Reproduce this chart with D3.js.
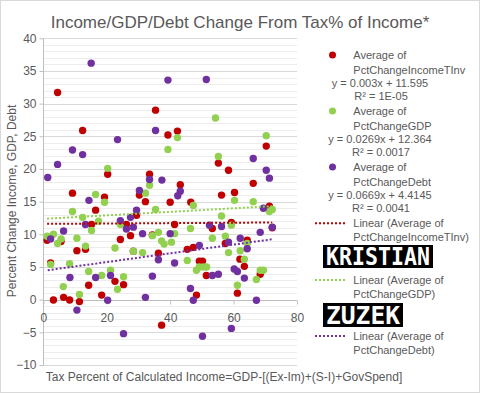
<!DOCTYPE html>
<html lang="en">
<head>
<meta charset="utf-8">
<title>Income/GDP/Debt Change From Tax% of Income</title>
<script src="https://d3js.org/d3.v7.min.js"></script>
<style>
body{margin:0;background:#fff;}
text{font-family:"Liberation Sans",Arial,sans-serif;fill:#595959;}
</style>
</head>
<body>
<div id="chart"></div>
<script>
// data: [tax %, pct change]
var incomePoints = [[4.5,31.7],[35.4,29.0],[12.4,25.9],[39.3,25.2],[20.3,19.2],[33.5,19.2],[42.3,25.8],[70.3,23.5],[55.2,20.9],[58.4,19.8],
  [9.2,16.3],[19.3,15.7],[30.3,16.0],[32.2,15.0],[40.0,14.9],[16.5,13.7],[29.4,12.9],[15.2,11.5],[26.2,11.5],[27.5,9.8],
  [34.4,9.9],[1.2,9.1],[5.6,8.9],[24.3,9.2],[10.6,7.5],[13.3,7.7],[28.4,7.4],[36.3,7.1],[2.3,5.6],[22.6,2.8],
  [25.3,2.3],[14.3,2.2],[18.4,0.7],[6.4,0.35],[8.3,-0.05],[3.2,-0.05],[11.4,-0.3],[37.3,-3.9],[43.2,17.6],[66.2,17.8],
  [46.5,14.9],[56.2,16.0],[60.3,16.4],[71.3,14.3],[41.4,11.5],[53.3,10.9],[59.3,11.8],[72.2,11.0],[57.4,8.6],[64.3,9.1],
  [45.4,7.7],[47.3,8.0],[49.2,5.9],[50.2,5.9],[62.0,6.2],[63.4,5.1],[68.4,3.9],[51.4,3.7],[61.2,1.0],[48.3,0.7]]
var gdpPoints = [[39.3,23.0],[20.3,20.1],[54.3,27.8],[42.3,24.8],[70.3,25.1],[55.2,21.9],[33.5,17.5],[16.5,16.1],[19.3,14.9],[32.2,16.3],
  [9.2,13.5],[35.4,13.8],[12.4,12.6],[17.4,12.0],[24.3,11.5],[15.2,10.6],[36.3,10.3],[34.4,9.8],[1.2,9.7],[3.2,10.0],
  [5.6,9.3],[4.5,8.6],[10.6,9.4],[37.3,9.0],[38.1,8.5],[22.6,7.9],[13.3,8.2],[28.4,7.4],[31.3,7.2],[8.3,5.5],
  [2.3,5.4],[14.3,4.3],[18.4,3.7],[21.2,4.5],[25.3,3.5],[6.3,2.0],[23.4,1.6],[11.4,0.8],[47.3,14.4],[60.3,15.2],
  [66.2,15.0],[56.2,12.8],[72.2,13.8],[71.3,13.5],[59.3,11.4],[41.4,10.1],[46.4,10.9],[40.4,8.8],[53.3,9.4],[57.4,9.7],
  [64.3,8.6],[62.1,7.5],[58.4,7.2],[45.4,6.0],[63.4,6.2],[49.2,5.0],[50.5,5.0],[51.5,5.0],[48.3,4.5],[68.4,4.5],
  [69.4,4.5],[67.2,3.1],[61.2,2.2]]
var debtPoints = [[15.1,36.2],[39.3,33.6],[51.4,33.7],[35.4,25.9],[23.4,24.5],[9.2,22.9],[12.4,22.2],[4.5,20.7],[1.4,18.7],[33.5,18.4],
  [37.4,18.3],[66.2,21.6],[70.3,19.8],[71.3,18.6],[30.3,16.7],[14.4,15.2],[29.4,13.7],[27.5,12.6],[24.3,12.1],[13.3,11.5],
  [26.2,10.8],[28.4,11.1],[6.4,10.5],[31.3,10.1],[40.0,10.1],[2.3,9.3],[36.3,6.1],[8.4,3.4],[16.5,3.4],[21.2,3.7],
  [34.4,3.6],[20.3,-0.1],[32.2,0.35],[10.6,-1.6],[25.3,-5.2],[43.2,16.6],[42.4,15.9],[69.4,14.0],[52.4,11.4],[56.2,11.2],
  [72.2,11.1],[68.4,10.3],[58.4,8.8],[62.1,9.4],[64.3,7.8],[49.2,8.3],[41.4,5.6],[60.2,4.7],[61.2,4.3],[63.4,3.3],
  [53.3,3.7],[55.2,3.9],[46.4,1.7],[47.3,-0.1],[67.2,-0.1],[59.3,-4.4],[50.2,-5.6]]

var seriesNames = ['PctChangeIncomeTInv', 'PctChangeGDP', 'PctChangeDebt']
var trendSlope = [0.003, 0.0269, 0.0669]
var trendIntercept = [11.595, 12.364, 4.4145]
var eqLabels = ['y = 0.003x + 11.595', 'y = 0.0269x + 12.364', 'y = 0.0669x + 4.4145']
var r2Labels = ['R² = 1E-05', 'R² = 0.0017', 'R² = 0.0041']
var nameTags = ['KRISTIAN', 'ZUZEK']
var xTicks = [0, 20, 40, 60, 80]
var yTicks = [-10, -5, 0, 5, 10, 15, 20, 25, 30, 35, 40]

var w = 480, h = 393
var colorList = ['#C00000', '#92D050', '#7030A0']
var allSeries = [incomePoints, gdpPoints, debtPoints]

var svg = d3.select('#chart').append('svg').attr('width', w).attr('height', h)
svg.append('rect').attr('x', 0.5).attr('y', 0.5).attr('width', w - 1).attr('height', h - 1)
  .attr('fill', '#fff').attr('stroke', '#d9d9d9')

var xScale = d3.scaleLinear().domain([0, 80]).range([43.3, 297])
var yScale = d3.scaleLinear().domain([-10, 40]).range([365, 38.3])

// minor + major gridlines
var minor = d3.range(-10, 41).filter(v => v % 5 != 0)
svg.append('g').selectAll('line').data(minor).enter().append('line')
  .attr('x1', xScale(0)).attr('x2', xScale(80))
  .attr('y1', d => Math.round(yScale(d)) + 0.5).attr('y2', d => Math.round(yScale(d)) + 0.5)
  .attr('stroke', '#ededed')
svg.append('g').selectAll('line').data(yTicks.filter(v => v != 0)).enter().append('line')
  .attr('x1', xScale(0)).attr('x2', xScale(80))
  .attr('y1', d => Math.round(yScale(d)) + 0.5).attr('y2', d => Math.round(yScale(d)) + 0.5)
  .attr('stroke', '#d9d9d9')

/* axes */
var yAxis = d3.axisLeft(yScale).tickValues(yTicks).tickSize(4).tickPadding(3)
var gy = svg.append('g').attr('transform', 'translate(' + (Math.round(xScale(0)) + 0.5) + ',0)').call(yAxis)
var xAxis = d3.axisBottom(xScale).tickValues(xTicks).tickSize(4).tickPadding(9)
var gx = svg.append('g').attr('transform', 'translate(0,' + (Math.round(yScale(0)) + 0.5) + ')').call(xAxis)
;[gx, gy].forEach(g => {
  g.selectAll('path,line').attr('stroke', '#bfbfbf')
  g.selectAll('text').style('font-size', '12px').attr('fill', '#595959')
})
gy.select('.domain').attr('d', 'M0,' + yScale(40) + 'V' + yScale(-10))
gx.select('.domain').attr('d', 'M' + xScale(0) + ',0H' + xScale(80))

/* points: red, then green, then purple on top */
allSeries.forEach((pts, i) => {
  svg.append('g').selectAll('circle').data(pts).enter().append('circle')
    .attr('cx', d => xScale(d[0])).attr('cy', d => yScale(d[1]))
    .attr('r', 3.7).attr('fill', colorList[i])
})

/* linear trendlines over each series' x range */
allSeries.forEach((pts, i) => {
  var ext = d3.extent(pts, d => d[0])
  svg.append('line')
    .attr('x1', xScale(ext[0])).attr('y1', yScale(trendSlope[i] * ext[0] + trendIntercept[i]))
    .attr('x2', xScale(ext[1])).attr('y2', yScale(trendSlope[i] * ext[1] + trendIntercept[i]))
    .attr('stroke', colorList[i]).attr('stroke-width', 2).attr('stroke-dasharray', '2,2')
})

/* titles */
svg.append('text').attr('x', 240).attr('y', 28).attr('text-anchor', 'middle')
  .style('font-size', '17px').text('Income/GDP/Debt Change From Tax% of Income*')
svg.append('text').attr('transform', 'translate(15.5,201) rotate(-90)').attr('text-anchor', 'middle')
  .style('font-size', '12px').text('Percent Change Income, GDP, Debt')
svg.append('text').attr('x', 224).attr('y', 381).attr('text-anchor', 'middle')
  .style('font-size', '12px').text('Tax Percent of Calculated Income=GDP-[(Ex-Im)+(S-I)+GovSpend]')

/* legend */
var lg = svg.append('g').style('font-size', '11px')
var markerTop = [55, 111, 167]
seriesNames.forEach((name, i) => {
  var y0 = markerTop[i]
  lg.append('circle').attr('cx', 332.5).attr('cy', y0).attr('r', 3.5).attr('fill', colorList[i])
  lg.append('text').attr('x', 353.3).attr('y', y0 + 4).text('Average of')
  lg.append('text').attr('x', 353.3).attr('y', y0 + 18.5).text(name)
  lg.append('text').attr('x', 380).attr('y', y0 + 31.5).attr('text-anchor', 'middle').text(eqLabels[i])
  lg.append('text').attr('x', 381).attr('y', y0 + 45).attr('text-anchor', 'middle').text(r2Labels[i])
})
var lineTop = [223.3, 280, 336]
seriesNames.forEach((name, i) => {
  var y0 = lineTop[i]
  lg.append('line').attr('x1', 315).attr('x2', 345).attr('y1', y0).attr('y2', y0)
    .attr('stroke', colorList[i]).attr('stroke-width', 2).attr('stroke-dasharray', '2,2')
  lg.append('text').attr('x', 353.3).attr('y', y0 + 4).text('Linear (Average of')
  lg.append('text').attr('x', 353.3).attr('y', y0 + 18).text(name + ')')
})
// name blocks between the legend entries
var tagBox = [[323, 245, 110, 23], [323, 303, 80, 24]]
nameTags.forEach((t, i) => {
  var b = tagBox[i]
  lg.append('rect').attr('x', b[0]).attr('y', b[1]).attr('width', b[2]).attr('height', b[3]).attr('fill', '#000')
  lg.append('text').attr('x', b[0] + 3).attr('y', b[1] + b[3] - 3)
    .attr('textLength', b[2] - 6).attr('lengthAdjust', 'spacingAndGlyphs')
    .style('font-size', '24px').style('font-weight', 'bold').style('fill', '#fff')
    .style('font-family', '"DejaVu Sans Mono", monospace').text(t)
})
</script>
</body>
</html>
